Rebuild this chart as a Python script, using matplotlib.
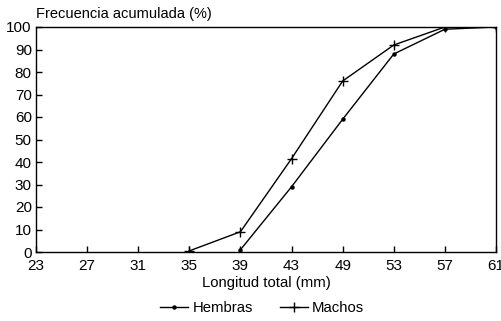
import matplotlib.pyplot as plt
from matplotlib.lines import Line2D

plt.rcParams['font.family'] = ['Liberation Sans', 'DejaVu Sans']

longitudes = ["23", "27", "31", "35", "39", "43", "49", "53", "57", "61"]
hembras_x = ["39", "43", "49", "53", "57", "61"]
hembras = [1, 29, 59, 88, 99, 100]
machos_x = ["35", "39", "43", "49", "53", "57", "61"]
machos = [0.5, 9, 41.5, 76, 92, 100, 100]

pos = {lab: i for i, lab in enumerate(longitudes)}

fig = plt.figure(figsize=(5.01, 3.21), dpi=100)
ax = fig.add_axes([36 / 501, 1 - 252 / 321, 460 / 501, 225 / 321])

ax.plot([pos[v] for v in hembras_x], hembras, color="black", lw=1,
        marker="o", ms=2.2)
ax.plot([pos[v] for v in machos_x], machos, color="black", lw=1,
        marker="+", ms=7, mew=1)

ax.set_xlim(0, len(longitudes) - 1)
ax.set_ylim(0, 100)
ax.set_xticks(range(len(longitudes)))
ax.set_xticklabels(longitudes)
ax.set_yticks(range(0, 101, 10))
ax.tick_params(direction="in", length=4, width=1, labelsize=11)
ax.tick_params(axis="x", pad=5)
ax.tick_params(axis="y", pad=3)
for s in ax.spines.values():
    s.set_linewidth(1)

ax.set_xlabel("Longitud total (mm)", fontsize=10.7, labelpad=2)
fig.text(36 / 501, 1 - 14 / 321, "Frecuencia acumulada (%)", fontsize=10.5,
         va="center", ha="left")

handles = [
    Line2D([], [], color="black", lw=1, marker="o", ms=2.2),
    Line2D([], [], color="black", lw=1, marker="+", ms=7, mew=1),
]
fig.legend(handles, ["Hembras", "Machos"], loc="center",
           bbox_to_anchor=(262 / 501, 1 - 308 / 321), ncol=2, frameon=False,
           fontsize=10.7, handlelength=1.9, handletextpad=0.3, columnspacing=1.8)

fig.savefig("out.png", dpi=100)
